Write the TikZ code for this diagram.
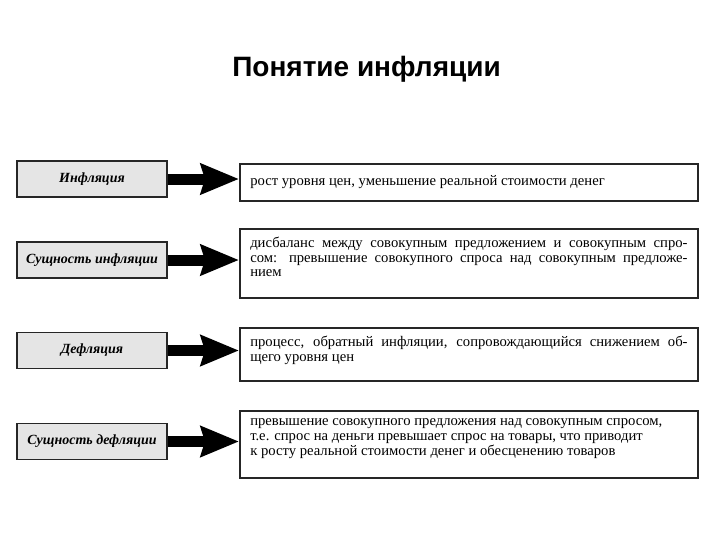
\documentclass[tikz,border=0pt]{standalone}
\usepackage{fontspec}
\setmainfont{Liberation Serif}
\newfontfamily\titlefont{Liberation Sans}
\usetikzlibrary{arrows.meta,positioning}
\newcommand{\deftext}[3][t]{\parbox[c][#2][#1]{328pt}{#3}}
\tikzset{x=0.75pt,y=-0.75pt,
  term node/.style={draw=black!85,line width=1.1pt,fill=black!10,minimum width=112.5pt,minimum height=27pt,inner sep=0pt,font=\bfseries\itshape\fontsize{10.5}{12}\selectfont},
  def node/.style={draw=black!85,line width=1.4pt,anchor=north west,inner xsep=7.75pt,inner ysep=6pt,font=\fontsize{11}{11}\selectfont},
  link/.style={line width=8.25pt,-{Stealth[length=28.5pt,width=22.5pt,inset=3pt]}}}

\begin{document}
\begin{tikzpicture}
    \useasboundingbox (0,0) rectangle (720,540);
    \node[anchor=base,font=\titlefont\bfseries\fontsize{21}{24}\selectfont] (title) at (366.5,76) {Понятие инфляции};

    \node[term node] (l1) at (92,179) {Инфляция};
    \node[term node] (l2) at (92,260) {Сущность инфляции};
    \node[term node] (l3) at (92,350.5) {Дефляция};
    \node[term node] (l4) at (92,441.5) {Сущность дефляции};

    \node[def node] (r1) at (239,163) {\deftext[c]{15.75pt}{рост уровня цен, уменьшение реальной стоимости денег}};
    \node[def node] (r2) at (239,228) {\deftext{39.75pt}{дисбаланс между совокупным предложением и совокупным спро-\linebreak сом: превышение совокупного спроса над совокупным предложе-\linebreak нием}};
    \node[def node] (r3) at (239,327) {\deftext{27.75pt}{процесс, обратный инфляции, сопровождающийся снижением об-\linebreak щего уровня цен}};
    \node[def node] (r4) at (239,410) {\deftext{38.25pt}{превышение совокупного предложения над совокупным спросом,\newline т.е. спрос на деньги превышает спрос на товары, что приводит\newline к росту реальной стоимости денег и обесценению товаров}};

    \path[link] (l1.east) edge (l1.east -| r1.west);
    \path[link] (l2.east) edge (l2.east -| r2.west);
    \path[link] (l3.east) edge (l3.east -| r3.west);
    \path[link] (l4.east) edge (l4.east -| r4.west);
\end{tikzpicture}
\end{document}
